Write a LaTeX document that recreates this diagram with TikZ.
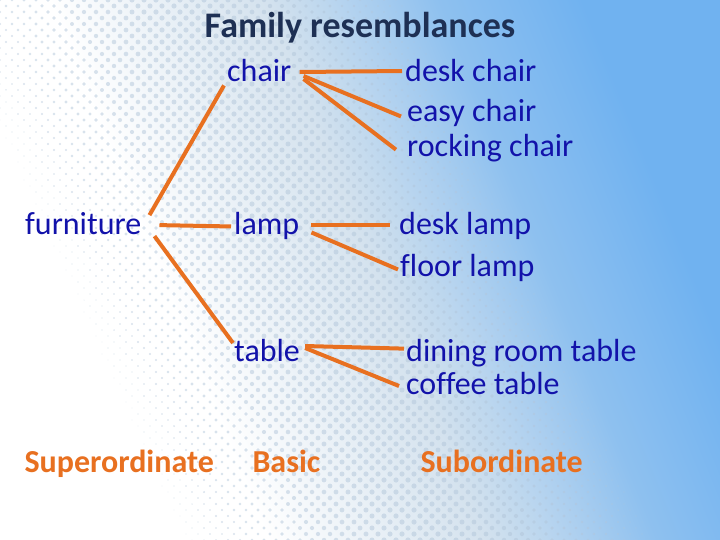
\documentclass[tikz,border=0pt]{standalone}
\usepackage{fontspec}
\setmainfont{Carlito}[Ligatures=NoCommon]
\usetikzlibrary{positioning}
\definecolor{wordblue}{RGB}{18,18,170}
\definecolor{linkorange}{RGB}{232,112,32}
\definecolor{titlenavy}{RGB}{30,48,84}
\definecolor{bgblue}{RGB}{112,178,240}
\definecolor{bgmid}{RGB}{212,226,238}
\definecolor{dotgray}{RGB}{178,198,218}
\pgfdeclarehorizontalshading{slidebg}{100bp}{color(0bp)=(white);color(36bp)=(white);color(51bp)=(bgmid);color(63bp)=(bgblue!70!bgmid);color(73bp)=(bgblue);color(100bp)=(bgblue)}
\begin{document}
\begin{tikzpicture}[x=1pt,y=-1pt,
 w/.style={text=wordblue,font=\fontsize{32}{36}\selectfont,inner sep=3pt,anchor=base west},
 lvl/.style={text=linkorange,font=\bfseries\fontsize{32}{36}\selectfont,anchor=base west},
 a/.style={draw=linkorange,line width=4pt}]
\shade[shading=slidebg,shading angle=22] (0,0) rectangle (720,540);
\useasboundingbox (0,0) rectangle (720,540);
% halftone dots
\begin{scope}
\clip (0,0) rectangle (720,540);
\foreach \j in {0,...,90}
 \foreach \i in {0,...,60}{
  \pgfmathsetmacro\dx{\i*12+mod(\j,2)*6}
  \pgfmathsetmacro\dy{\j*6}
  \pgfmathsetmacro\ds{\dx+0.45*(540-\dy)}
  \pgfmathsetmacro\dr{2.6*sin(max(0,min(180,0.3462*(\ds-160))))}
  \ifdim\dr pt>0.4pt \fill[dotgray,opacity=0.5] (\dx,\dy) circle[radius=\dr]; \fi
 }
\end{scope}
\node[font=\bfseries\fontsize{36}{40}\selectfont,text=titlenavy,anchor=base] (title) at (360,38) {Family resemblances};
% basic level
\node[w] (furniture) at (22,235) {furniture};
\node[w] (chair) at (224,82) {chair};
\node[w] (lamp) at (231,235) {lamp};
\node[w] (table) at (231,361) {table};
% subordinate level
\node[w] (deskc) at (402,82) {desk chair};
\node[w] (easyc) at (404,122) {easy chair};
\node[w] (rockc) at (404,157) {rocking chair};
\node[w] (deskl) at (396,235) {desk lamp};
\node[w] (floorl) at (397,276) {floor lamp};
\node[w] (dining) at (403,361) {dining room table};
\node[w] (coffee) at (403,394) {coffee table};
\node[lvl] (super) at (21,472) {Superordinate};
\node[lvl] (basic) at (249,472) {Basic};
\node[lvl] (sub) at (417,472) {Subordinate};
\draw[a] ([shift={(5,-9)}]furniture.east)--(chair.south west); \draw[a] ([shift={(15,1)}]furniture.east)--(lamp.west); \draw[a] ([shift={(10,12)}]furniture.east)--([shift={(2,-7)}]table.west);
\draw[a] ([shift={(5,1)}]chair.east)--(deskc.west); \draw[a] ([shift={(9,5)}]chair.east)--([shift={(-3,3)}]easyc.west); \draw[a] ([shift={(9,8)}]chair.east)--([shift={(-8,1)}]rockc.west);
\draw[a] ([shift={(9,-1)}]lamp.east)--([shift={(-6,-1)}]deskl.west); \draw[a] ([shift={(9,6)}]lamp.east)--([shift={(1,2)}]floorl.west);
\draw[a] ([shift={(2,-4)}]table.east)--([shift={(1,-4)}]dining.west); \draw[a] ([shift={(2,-2)}]table.east)--([shift={(-4,3)}]coffee.west);
\end{tikzpicture}
\end{document}
